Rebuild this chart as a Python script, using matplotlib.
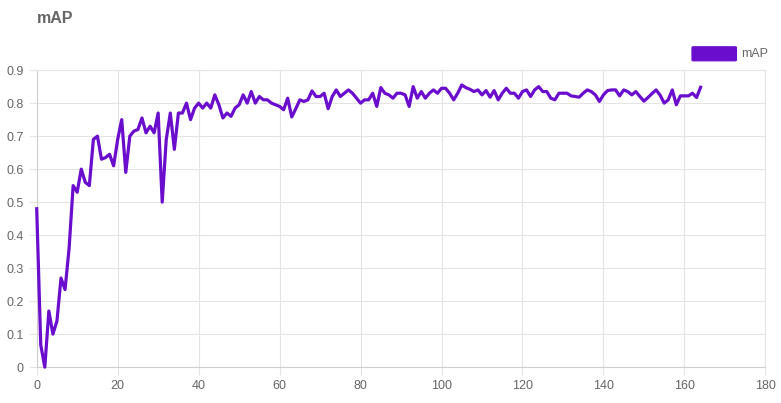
import matplotlib
matplotlib.use("Agg")
import matplotlib.pyplot as plt
from matplotlib.patches import FancyBboxPatch

plt.rcParams['font.family'] = ['Liberation Sans', 'DejaVu Sans']

# mAP per epoch
map_values = [
    0.48, 0.067, 0.00, 0.17, 0.10, 0.14, 0.27, 0.235, 0.36, 0.55,
    0.53, 0.60, 0.56, 0.55, 0.69, 0.70, 0.63, 0.635, 0.645, 0.61,
    0.69, 0.75, 0.59, 0.70, 0.715, 0.72, 0.755, 0.71, 0.73, 0.71,
    0.77, 0.50, 0.69, 0.77, 0.66, 0.77, 0.77, 0.80, 0.75, 0.785,
    0.80, 0.785, 0.80, 0.785, 0.825, 0.795, 0.755, 0.77, 0.76, 0.785,
    0.795, 0.825, 0.80, 0.835, 0.80, 0.82, 0.81, 0.81, 0.80, 0.795,
    0.79, 0.78, 0.815, 0.758, 0.783, 0.81, 0.805, 0.81, 0.837, 0.82,
    0.82, 0.83, 0.783, 0.82, 0.84, 0.82, 0.83, 0.84, 0.83, 0.815,
    0.80, 0.81, 0.81, 0.83, 0.79, 0.847, 0.83, 0.825, 0.815, 0.83,
    0.83, 0.825, 0.79, 0.85, 0.815, 0.835, 0.815, 0.83, 0.84, 0.83,
    0.845, 0.845, 0.83, 0.81, 0.83, 0.855, 0.847, 0.842, 0.835, 0.84,
    0.825, 0.838, 0.818, 0.838, 0.81, 0.83, 0.845, 0.83, 0.83, 0.815,
    0.835, 0.84, 0.82, 0.84, 0.85, 0.835, 0.835, 0.815, 0.81, 0.83,
    0.83, 0.83, 0.822, 0.82, 0.818, 0.83, 0.84, 0.835, 0.825, 0.805,
    0.825, 0.838, 0.84, 0.84, 0.822, 0.84, 0.835, 0.825, 0.835, 0.82,
    0.806, 0.817, 0.829, 0.84, 0.824, 0.80, 0.81, 0.84, 0.795, 0.822,
    0.822, 0.822, 0.83, 0.817, 0.848,
]
epochs = list(range(len(map_values)))

x_ticks = [0, 20, 40, 60, 80, 100, 120, 140, 160, 180]
y_ticks = [0, 0.1, 0.2, 0.3, 0.4, 0.5, 0.6, 0.7, 0.8, 0.9]
y_labels = ['0', '0.1', '0.2', '0.3', '0.4', '0.5', '0.6', '0.7', '0.8', '0.9']

line_color = '#6a0dcc'
text_color = '#666666'
grid_color = '#e4e4e4'

fig = plt.figure(figsize=(7.81, 4.03), dpi=100)
ax = fig.add_axes([0.047, 0.089, 0.933, 0.737])

ax.plot(epochs, map_values, color=line_color, linewidth=2.3, clip_on=False, zorder=3)

ax.set_xlim(0, 180)
ax.set_ylim(0, 0.9)
ax.set_xticks(x_ticks)
ax.set_yticks(y_ticks)
ax.set_yticklabels(y_labels)
ax.grid(True, color=grid_color, linewidth=0.8)
ax.set_axisbelow(True)
for side in ['top', 'right']:
    ax.spines[side].set_color(grid_color)
for side in ['left', 'bottom']:
    ax.spines[side].set_color('#cfcfcf')
ax.tick_params(colors=text_color, labelsize=9, length=6, width=0.8)
ax.tick_params(axis='both', color=grid_color)
ax.set_xlabel('Epoch', color=text_color, fontsize=9, labelpad=8)

# title and legend placed like the chart.js layout
fig.text(0.047, 0.953, 'mAP', color=text_color, fontsize=11.5, fontweight='bold',
         va='center', ha='left')
fig.patches.append(FancyBboxPatch((0.888, 0.851), 0.053, 0.031, transform=fig.transFigure,
                                  boxstyle='round,pad=0.002', facecolor=line_color,
                                  edgecolor=line_color, linewidth=0.8))
fig.text(0.949, 0.866, 'mAP', color=text_color, fontsize=9, va='center', ha='left')

fig.savefig('out.png', dpi=100)
